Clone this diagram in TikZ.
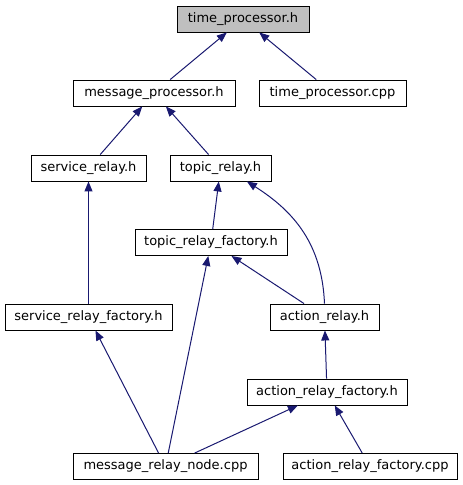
\documentclass[tikz,border=0pt]{standalone}
\usepackage{fontspec}
\setmainfont{DejaVu Sans}
\usetikzlibrary{arrows.meta}
\definecolor{navy}{RGB}{25,25,112}
\definecolor{shade}{RGB}{191,191,191}
\tikzset{
  >={Triangle[length=10pt,width=8pt]},
  file/.style={draw=black,fill=#1,line width=0.9pt,minimum height=26pt,
    inner xsep=3pt,inner ysep=0pt,font=\fontsize{13}{15}\selectfont},
  file/.default=white,
  dep/.style={->,draw=navy,line width=1pt},
}
\begin{document}
\begin{tikzpicture}[x=1pt,y=-1pt]
  \useasboundingbox (0,0) rectangle (463,485);
  % files
  \node[file=shade,minimum width=132pt] (tp) at (243,19) {time\_processor.h};
  \node[file,minimum width=162pt] (mp) at (154,93) {message\_processor.h};
  \node[file,minimum width=147pt] (tpc) at (332.5,93) {time\_processor.cpp};
  \node[file,minimum width=115pt] (sr) at (88.5,168) {service\_relay.h};
  \node[file,minimum width=101pt] (tr) at (220.5,168) {topic\_relay.h};
  \node[file,minimum width=152pt] (trf) at (211,242.5) {topic\_relay\_factory.h};
  \node[file,minimum width=167pt] (srf) at (88.5,317) {service\_relay\_factory.h};
  \node[file,minimum width=109pt] (ar) at (324.5,317) {action\_relay.h};
  \node[file,minimum width=160pt] (arf) at (327,392) {action\_relay\_factory.h};
  \node[file,minimum width=185pt] (mrn) at (165.5,466.5) {message\_relay\_node.cpp};
  \node[file,minimum width=174pt] (arfc) at (370,466.5) {action\_relay\_factory.cpp};
  % includes
  \draw[dep] (mp) -- (tp);
  \draw[dep] (tpc) -- (tp);
  \draw[dep] (sr) -- (mp);
  \draw[dep] (tr) -- (mp);
  \draw[dep] (srf) -- (sr);
  \draw[dep] (trf) -- (tr);
  \draw[dep] (ar.north) .. controls (322,245) and (295,212) .. (tr.-27);
  \draw[dep] (ar) -- (trf);
  \draw[dep] (mrn) -- (trf);
  \draw[dep] (mrn) -- (srf);
  \draw[dep] (mrn) -- (arf);
  \draw[dep] (arf) -- (ar);
  \draw[dep] (arfc) -- (arf);
\end{tikzpicture}
\end{document}
